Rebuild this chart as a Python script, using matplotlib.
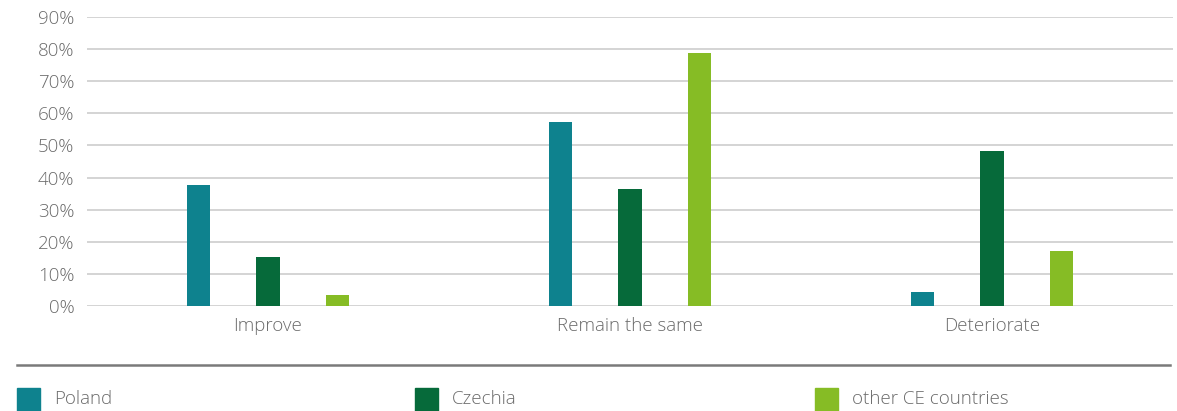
import numpy as np
import matplotlib as mpl
import matplotlib.pyplot as plt
from matplotlib.patches import Rectangle
from matplotlib.lines import Line2D

mpl.rcParams["font.family"] = ["Open Sans", "DejaVu Sans"]

# ===================== Data =====================
categories = ["Improve", "Remain the same", "Deteriorate"]
series_names = ["Poland", "Czechia", "other CE countries"]
poland = [37.7, 57.3, 4.4]
czechia = [15.3, 36.4, 48.3]
other_ce = [3.4, 78.8, 17.1]
yticks = [0, 10, 20, 30, 40, 50, 60, 70, 80, 90]

colors = ["#0E828E", "#066A3A", "#86BC25"]
text_col = "#6b6b6b"

W, H = 1177, 411
fig = plt.figure(figsize=(W / 100, H / 100), dpi=100)
ax = fig.add_axes([87 / W, (H - 306) / H, (1173 - 87) / W, (306 - 17) / H])

x = np.arange(len(categories))
bar_w = 0.064
offset = 0.193
for i, (vals, c) in enumerate(zip([poland, czechia, other_ce], colors)):
    ax.bar(x + (i - 1) * offset, vals, width=bar_w, color=c, zorder=3)

ax.set_xlim(-0.5, len(categories) - 0.5)
ax.set_ylim(0, 90)
ax.set_yticks(yticks)
ax.set_yticklabels([f"{v}%" for v in yticks])
ax.set_xticks(x)
ax.set_xticklabels(categories)
ax.yaxis.grid(True, color="#d4d4d4", lw=1.4, zorder=0)
ax.tick_params(length=0, labelsize=13.5, colors=text_col)
ax.tick_params(axis="y", pad=9)
ax.tick_params(axis="x", pad=8)
for lbl in ax.get_xticklabels() + ax.get_yticklabels():
    lbl.set_fontweight("light")
for s in ax.spines.values():
    s.set_visible(False)

# separator line and legend
fig.add_artist(Line2D([17 / W, 1170 / W], [(H - 365) / H] * 2,
                      color="#7a7a7a", lw=1.8, transform=fig.transFigure))
leg_x = [17, 415, 815]
for lx, name, c in zip(leg_x, series_names, colors):
    fig.add_artist(Rectangle((lx / W, 0), 23 / W, 23 / H, color=c,
                             transform=fig.transFigure))
    fig.text((lx + 37) / W, (H - 399) / H, name, color=text_col,
             fontsize=13.5, fontweight="light", va="center")

fig.savefig("out.png", dpi=100)
